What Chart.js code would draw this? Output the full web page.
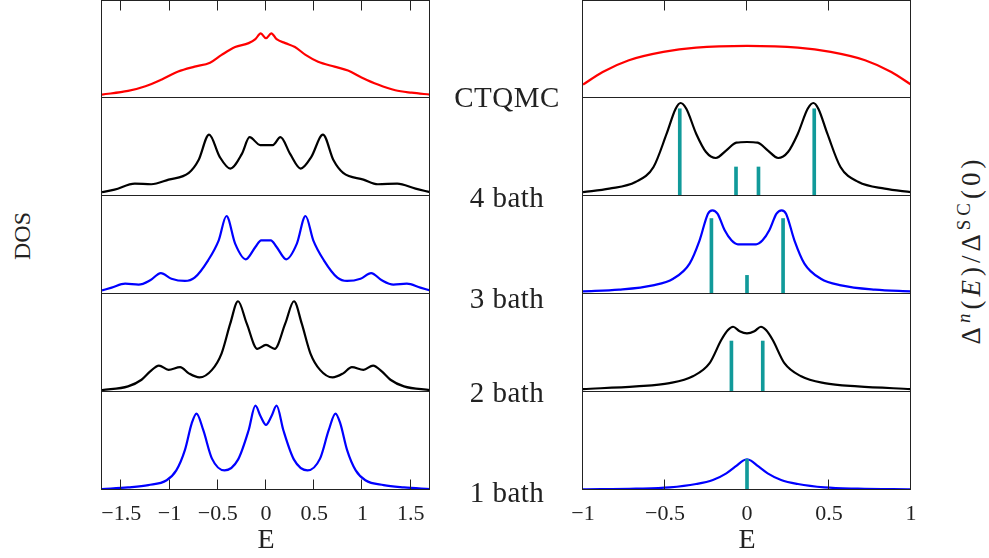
<!DOCTYPE html>
<html>
<head>
<meta charset="utf-8">
<script src="https://cdn.jsdelivr.net/npm/chart.js@4.4.1/dist/chart.umd.min.js"></script>
<style>
  body { margin: 0; width: 989px; height: 558px; position: relative; overflow: hidden; background: #fff;
         font-family: 'Liberation Serif', 'DejaVu Serif', serif; color: #222; }
  canvas { position: absolute; }
  .lab { position: absolute; transform: translate(-50%, -50%); white-space: nowrap; }
  .row { font-size: 29px; letter-spacing: 0.5px; }
  .ylab { font-size: 24px; transform: translate(-50%, -50%) rotate(-90deg); }
  .ylab sup { font-size: 0.7em; vertical-align: 0.5em; line-height: 0; }
</style>
</head>
<body>

<div class="lab ylab" style="left:22px; top:236px;">DOS</div>
<div class="lab ylab" style="left:971px; top:250px; font-size:27px; letter-spacing:4px;">&Delta;<sup><i>n</i></sup>(<i>E</i>)/&Delta;<sup>SC</sup>(0)</div>

<script>
// tick values and row names
const leftTicks = [-1.5, -1, -0.5, 0, 0.5, 1, 1.5];
const rightTicks = [-1, -0.5, 0, 0.5, 1];
const rightTopMarks = [-0.5, 0, 0.5];
const rightBottomMarks = [-0.5, 0.5];
const rowLabels = ['CTQMC', '4 bath', '3 bath', '2 bath', '1 bath'];
const rowLabelY = [97, 197, 298, 392, 492];

// LEFT COLUMN - DOS curves (values as fraction of panel height)
const dosE_ctqmc = [-1.7, -1.43, -1.25, -1.08, -0.91, -0.74, -0.58, -0.46, -0.32, -0.18, -0.11, -0.055, 0, 0.055, 0.11, 0.2, 0.3, 0.41, 0.54, 0.71, 0.85, 0.99, 1.16, 1.34, 1.51, 1.7];
const dos_ctqmc = [0.035, 0.072, 0.12, 0.19, 0.27, 0.32, 0.36, 0.44, 0.52, 0.56, 0.6, 0.66, 0.61, 0.66, 0.6, 0.56, 0.52, 0.44, 0.37, 0.32, 0.28, 0.21, 0.137, 0.079, 0.054, 0.035];

const dosE_4 = [-1.7, -1.57, -1.36, -1.19, -1.01, -0.8, -0.7, -0.59, -0.48, -0.37, -0.25, -0.17, -0.06, 0, 0.07, 0.15, 0.25, 0.36, 0.47, 0.59, 0.7, 0.8, 1.01, 1.16, 1.36, 1.55, 1.7];
const dos_4 = [0.04, 0.065, 0.126, 0.12, 0.167, 0.235, 0.364, 0.626, 0.4, 0.28, 0.43, 0.6, 0.52, 0.52, 0.52, 0.6, 0.43, 0.28, 0.4, 0.626, 0.364, 0.235, 0.167, 0.12, 0.126, 0.075, 0.04];

const dosE_3 = [-1.7, -1.6, -1.46, -1.32, -1.2, -1.09, -0.98, -0.84, -0.74, -0.6, -0.49, -0.41, -0.32, -0.21, -0.11, -0.05, 0, 0.05, 0.11, 0.21, 0.32, 0.41, 0.49, 0.6, 0.74, 0.84, 0.98, 1.09, 1.2, 1.32, 1.46, 1.6, 1.7];
const dos_3 = [0.037, 0.065, 0.105, 0.095, 0.14, 0.214, 0.156, 0.133, 0.167, 0.344, 0.548, 0.796, 0.514, 0.354, 0.48, 0.548, 0.548, 0.548, 0.48, 0.354, 0.514, 0.796, 0.548, 0.344, 0.167, 0.133, 0.156, 0.214, 0.14, 0.095, 0.105, 0.065, 0.037];

const dosE_2 = [-1.7, -1.43, -1.29, -1.2, -1.11, -1.01, -0.89, -0.8, -0.69, -0.56, -0.46, -0.37, -0.29, -0.2, -0.09, 0, 0.09, 0.2, 0.29, 0.37, 0.46, 0.56, 0.69, 0.8, 0.89, 1.01, 1.11, 1.2, 1.29, 1.43, 1.7];
const dos_2 = [0.02, 0.057, 0.125, 0.21, 0.27, 0.226, 0.253, 0.19, 0.149, 0.226, 0.395, 0.7, 0.926, 0.7, 0.44, 0.48, 0.44, 0.7, 0.926, 0.7, 0.395, 0.226, 0.149, 0.19, 0.253, 0.226, 0.27, 0.21, 0.125, 0.057, 0.02];

const dosE_1 = [-1.7, -1.43, -1.22, -1.03, -0.93, -0.84, -0.77, -0.72, -0.65, -0.56, -0.43, -0.29, -0.18, -0.11, -0.055, 0, 0.055, 0.11, 0.18, 0.29, 0.43, 0.56, 0.65, 0.72, 0.77, 0.84, 0.93, 1.03, 1.22, 1.43, 1.7];
const dos_1 = [0.01, 0.027, 0.05, 0.1, 0.2, 0.41, 0.68, 0.78, 0.61, 0.32, 0.2, 0.31, 0.61, 0.86, 0.75, 0.665, 0.75, 0.86, 0.61, 0.31, 0.2, 0.32, 0.61, 0.78, 0.68, 0.41, 0.2, 0.1, 0.05, 0.027, 0.01];

// RIGHT COLUMN - Delta^n(E)/Delta^SC(0)
const gapE_ctqmc = [-1, -0.88, -0.72, -0.51, -0.31, 0, 0.31, 0.51, 0.72, 0.88, 1];
const gap_ctqmc = [0.137, 0.266, 0.386, 0.471, 0.515, 0.532, 0.515, 0.471, 0.386, 0.266, 0.137];

const gapE_4 = [-1, -0.84, -0.68, -0.57, -0.49, -0.435, -0.405, -0.37, -0.31, -0.25, -0.19, -0.126, -0.065, 0, 0.065, 0.126, 0.19, 0.25, 0.31, 0.37, 0.405, 0.435, 0.49, 0.57, 0.68, 0.84, 1];
const gap_4 = [0.04, 0.075, 0.143, 0.296, 0.636, 0.89, 0.949, 0.89, 0.636, 0.449, 0.388, 0.466, 0.544, 0.551, 0.544, 0.466, 0.388, 0.449, 0.636, 0.89, 0.949, 0.89, 0.636, 0.296, 0.143, 0.075, 0.04];

const gapE_3 = [-1, -0.78, -0.574, -0.45, -0.35, -0.289, -0.238, -0.211, -0.18, -0.136, -0.095, -0.055, 0, 0.055, 0.095, 0.136, 0.18, 0.211, 0.238, 0.289, 0.35, 0.45, 0.574, 0.78, 1];
const gap_3 = [0.027, 0.044, 0.088, 0.156, 0.31, 0.548, 0.82, 0.854, 0.82, 0.65, 0.548, 0.507, 0.507, 0.507, 0.548, 0.65, 0.82, 0.854, 0.82, 0.548, 0.31, 0.156, 0.088, 0.044, 0.027];

const gapE_2 = [-1, -0.676, -0.472, -0.33, -0.228, -0.157, -0.116, -0.085, -0.045, 0, 0.045, 0.085, 0.116, 0.157, 0.228, 0.33, 0.472, 0.676, 1];
const gap_2 = [0.03, 0.057, 0.09, 0.16, 0.294, 0.53, 0.632, 0.666, 0.62, 0.598, 0.62, 0.666, 0.632, 0.53, 0.294, 0.16, 0.09, 0.057, 0.03];

const gapE_1 = [-1, -0.676, -0.472, -0.31, -0.208, -0.126, -0.065, -0.024, 0, 0.024, 0.065, 0.126, 0.208, 0.31, 0.472, 0.676, 1];
const gap_1 = [0.007, 0.014, 0.027, 0.061, 0.102, 0.17, 0.246, 0.3, 0.314, 0.3, 0.246, 0.17, 0.102, 0.061, 0.027, 0.014, 0.007];

// bath poles (teal sticks)
const poleE_4 = [-0.41, -0.067, 0.07, 0.41];
const pole_4 = [0.89, 0.296, 0.296, 0.89];
const poleE_3 = [-0.217, 0, 0.22];
const pole_3 = [0.77, 0.19, 0.77];
const poleE_2 = [-0.095, 0.096];
const pole_2 = [0.52, 0.52];
const poleE_1 = [0];
const pole_1 = [0.314];

const SERIF = "'Liberation Serif', 'DejaVu Serif', serif";
const rowColors = ['#ff0000', '#000000', '#0000ff', '#000000', '#0000ff'];
const TEAL = '#119a9a';

const pairs = (es, vs) => es.map((e, i) => ({ x: e, y: vs[i] }));

const columns = [
  { left: 102, width: 328, min: -1.7, max: 1.7, ticks: leftTicks, topMarks: leftTicks, bottomMarks: leftTicks,
    lines: [[dosE_ctqmc, dos_ctqmc], [dosE_4, dos_4], [dosE_3, dos_3], [dosE_2, dos_2], [dosE_1, dos_1]],
    poles: [null, null, null, null, null] },
  { left: 583, width: 328, min: -1, max: 1, ticks: rightTicks, topMarks: rightTopMarks, bottomMarks: rightBottomMarks,
    lines: [[gapE_ctqmc, gap_ctqmc], [gapE_4, gap_4], [gapE_3, gap_3], [gapE_2, gap_2], [gapE_1, gap_1]],
    poles: [null, [poleE_4, pole_4], [poleE_3, pole_3], [poleE_2, pole_2], [poleE_1, pole_1]] },
];

const PADX = 40, PADY = 10, PANEL_H = 98, AXIS_H = 68;
const panelTops = [0, 98, 196, 294, 392];

// frame + inward tick marks
const framePlugin = {
  id: 'frame',
  afterDatasetsDraw(chart, args, opts) {
    const { ctx, chartArea: a, scales: { x } } = chart;
    const L = a.left - 0.5, R = a.right - 0.5, B = a.bottom - 0.5;
    const T = opts.first ? a.top + 0.5 : a.top - 0.5;
    ctx.save();
    ctx.strokeStyle = '#222';
    ctx.lineWidth = 1;
    ctx.strokeRect(L, T, R - L, B - T);
    ctx.beginPath();
    (opts.top || []).forEach(v => {
      const p = Math.round(x.getPixelForValue(v)) - 0.5;
      ctx.moveTo(p, T); ctx.lineTo(p, T + 10);
    });
    (opts.bottom || []).forEach(v => {
      const p = Math.round(x.getPixelForValue(v)) - 0.5;
      ctx.moveTo(p, B); ctx.lineTo(p, B - 10);
    });
    ctx.stroke();
    ctx.restore();
  },
};

columns.forEach(col => {
  col.lines.forEach((ln, row) => {
    const last = row === 4;
    const cv = document.createElement('canvas');
    cv.width = col.width + 2 * PADX;
    cv.height = last ? PADY + PANEL_H + AXIS_H : PANEL_H + 2 * PADY;
    cv.style.left = (col.left - PADX) + 'px';
    cv.style.top = (panelTops[row] - PADY) + 'px';
    document.body.appendChild(cv);

    const datasets = [{
      type: 'line',
      data: pairs(ln[0], ln[1]),
      borderColor: rowColors[row],
      borderWidth: 2.2,
      pointRadius: 0,
      cubicInterpolationMode: 'monotone',
      fill: false,
      order: 1,
    }];
    if (col.poles[row]) {
      datasets.push({
        type: 'bar',
        data: pairs(col.poles[row][0], col.poles[row][1]),
        backgroundColor: TEAL,
        barThickness: 3,
        order: 0,
      });
    }

    const xScale = {
      type: 'linear', min: col.min, max: col.max,
      offset: false,
      display: last,
      afterBuildTicks: s => { s.ticks = col.ticks.map(v => ({ value: v })); },
      grid: { display: false, drawTicks: false, offset: false },
      border: { display: false },
      ticks: {
        padding: 11, color: '#222', maxRotation: 0, autoSkip: false,
        font: { family: SERIF, size: 22 },
        callback: v => String(v).replace('-', '\u2212'),
      },
      title: { display: true, text: 'E', color: '#222', font: { family: SERIF, size: 28 }, padding: { top: 0, bottom: 1 } },
    };
    if (last) xScale.afterFit = s => { s.height = AXIS_H; };

    new Chart(cv, {
      type: 'line',
      data: { datasets },
      plugins: [framePlugin],
      options: {
        responsive: false,
        animation: false,
        events: [],
        layout: { padding: { left: PADX, right: PADX, top: PADY, bottom: last ? 0 : PADY } },
        scales: {
          x: xScale,
          y: { display: false, min: 0, max: 1 },
        },
        plugins: {
          legend: { display: false },
          tooltip: { enabled: false },
          frame: { first: row === 0, top: row === 0 ? col.topMarks : [], bottom: last ? col.bottomMarks : [] },
        },
      },
    });
  });
});

// row names between the columns
rowLabels.forEach((t, i) => {
  const d = document.createElement('div');
  d.className = 'lab row';
  d.style.left = '507px';
  d.style.top = rowLabelY[i] + 'px';
  d.textContent = t;
  document.body.appendChild(d);
});
</script>
</body>
</html>
